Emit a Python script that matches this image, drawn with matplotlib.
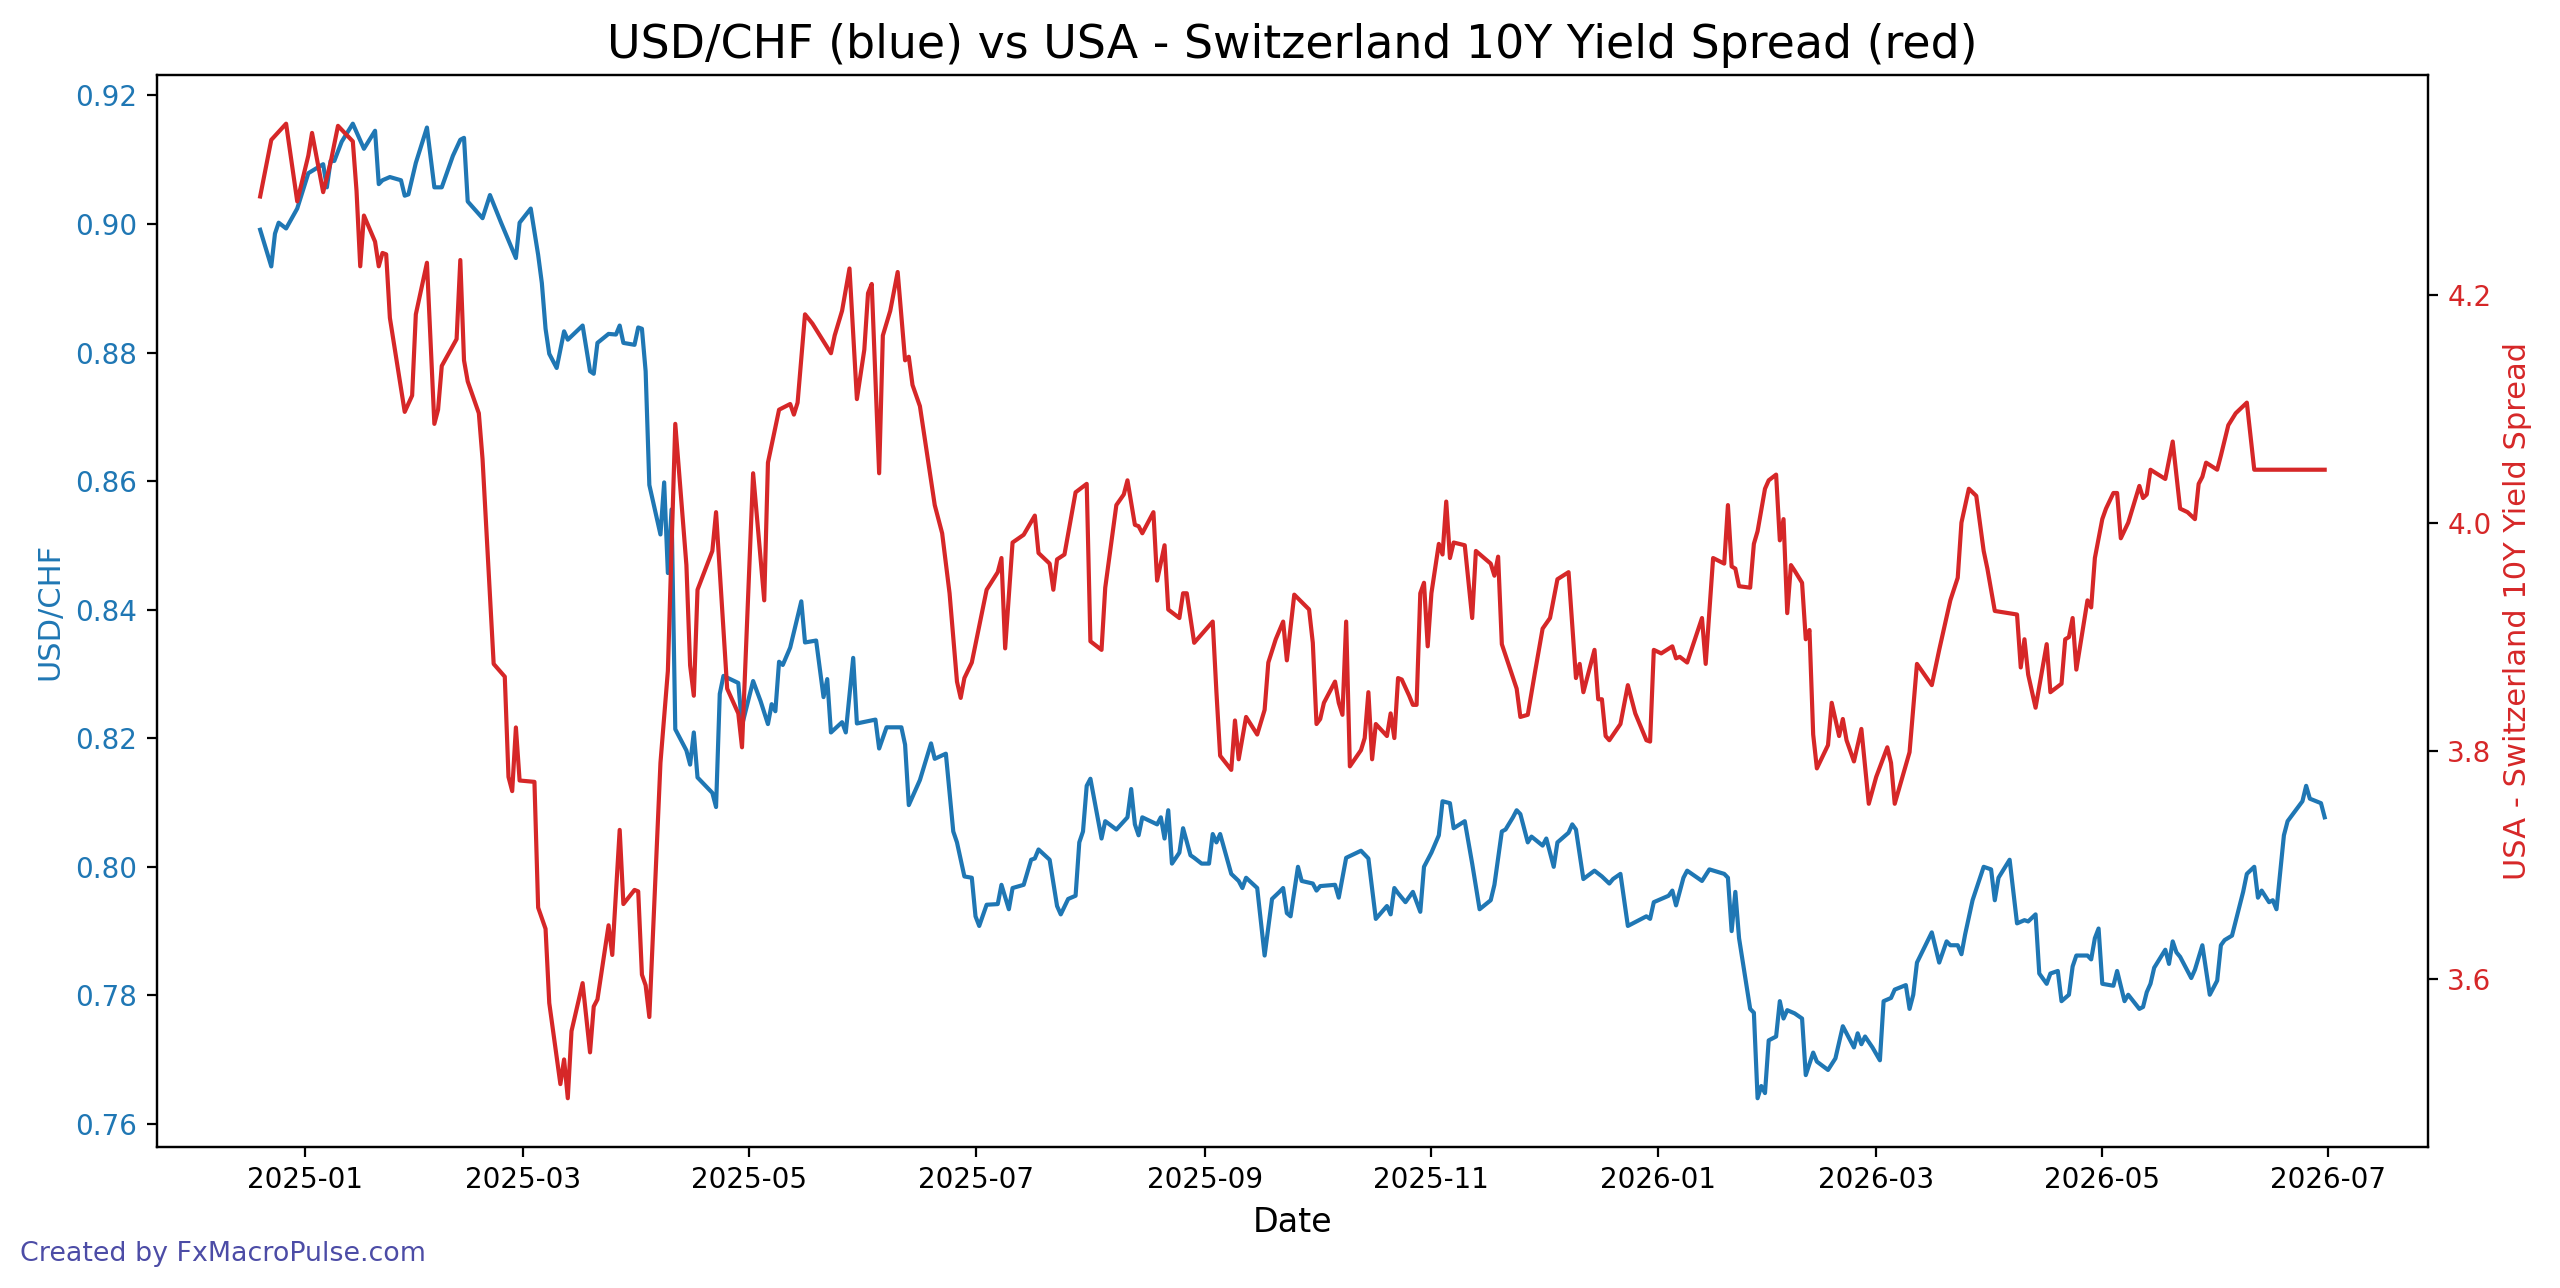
import matplotlib
matplotlib.use("Agg")
import matplotlib.pyplot as plt
import matplotlib.dates as mdates
import pandas as pd

# ---------------- data ----------------
usdchf_dates = [
    "2024-12-20", "2024-12-23", "2024-12-24", "2024-12-25", "2024-12-27", "2024-12-30",
    "2025-01-02", "2025-01-06", "2025-01-07", "2025-01-08", "2025-01-09", "2025-01-11", "2025-01-14", "2025-01-17",
    "2025-01-20", "2025-01-21", "2025-01-22", "2025-01-24", "2025-01-27", "2025-01-28", "2025-01-29", "2025-01-31",
    "2025-02-03", "2025-02-05", "2025-02-07", "2025-02-10", "2025-02-12", "2025-02-13", "2025-02-14", "2025-02-18",
    "2025-02-20", "2025-02-23", "2025-02-27", "2025-02-28",
    "2025-03-03", "2025-03-05", "2025-03-06", "2025-03-07", "2025-03-08", "2025-03-10", "2025-03-12", "2025-03-13",
    "2025-03-17", "2025-03-19", "2025-03-20", "2025-03-21", "2025-03-24", "2025-03-26", "2025-03-27", "2025-03-28", "2025-03-31",
    "2025-04-01", "2025-04-02", "2025-04-03", "2025-04-04", "2025-04-07", "2025-04-08", "2025-04-09", "2025-04-10",
    "2025-04-11", "2025-04-14", "2025-04-15", "2025-04-16", "2025-04-17", "2025-04-21", "2025-04-22", "2025-04-23",
    "2025-04-24", "2025-04-28", "2025-04-29",
    "2025-05-02", "2025-05-04", "2025-05-06", "2025-05-07", "2025-05-08", "2025-05-09", "2025-05-10", "2025-05-12",
    "2025-05-15", "2025-05-16", "2025-05-19", "2025-05-21", "2025-05-22", "2025-05-23", "2025-05-26", "2025-05-27",
    "2025-05-29", "2025-05-30",
    "2025-06-04", "2025-06-05", "2025-06-07", "2025-06-11", "2025-06-12", "2025-06-13", "2025-06-16", "2025-06-19",
    "2025-06-20", "2025-06-23", "2025-06-25", "2025-06-26", "2025-06-28", "2025-06-30",
    "2025-07-01", "2025-07-02", "2025-07-04", "2025-07-07", "2025-07-08", "2025-07-10", "2025-07-11", "2025-07-14",
    "2025-07-16", "2025-07-17", "2025-07-18", "2025-07-21", "2025-07-23", "2025-07-24", "2025-07-26", "2025-07-28",
    "2025-07-29", "2025-07-30", "2025-07-31",
    "2025-08-01", "2025-08-04", "2025-08-05", "2025-08-08", "2025-08-11", "2025-08-12", "2025-08-13", "2025-08-14",
    "2025-08-15", "2025-08-19", "2025-08-20", "2025-08-21", "2025-08-22", "2025-08-23", "2025-08-25", "2025-08-26",
    "2025-08-28", "2025-08-29", "2025-08-31",
    "2025-09-02", "2025-09-03", "2025-09-04", "2025-09-05", "2025-09-08", "2025-09-10", "2025-09-11", "2025-09-12",
    "2025-09-15", "2025-09-17", "2025-09-19", "2025-09-21", "2025-09-22", "2025-09-23", "2025-09-24", "2025-09-26",
    "2025-09-27", "2025-09-30",
    "2025-10-01", "2025-10-02", "2025-10-06", "2025-10-07", "2025-10-09", "2025-10-13", "2025-10-15", "2025-10-17",
    "2025-10-20", "2025-10-21", "2025-10-22", "2025-10-23", "2025-10-25", "2025-10-27", "2025-10-29", "2025-10-30",
    "2025-11-01", "2025-11-03", "2025-11-04", "2025-11-06", "2025-11-07", "2025-11-10", "2025-11-12", "2025-11-14",
    "2025-11-17", "2025-11-18", "2025-11-20", "2025-11-21", "2025-11-23", "2025-11-24", "2025-11-25", "2025-11-27", "2025-11-28",
    "2025-12-01", "2025-12-02", "2025-12-04", "2025-12-05", "2025-12-08", "2025-12-09", "2025-12-10", "2025-12-12",
    "2025-12-15", "2025-12-17", "2025-12-19", "2025-12-20", "2025-12-22", "2025-12-24", "2025-12-29", "2025-12-30", "2025-12-31",
    "2026-01-04", "2026-01-05", "2026-01-06", "2026-01-08", "2026-01-09", "2026-01-13", "2026-01-15", "2026-01-19",
    "2026-01-20", "2026-01-21", "2026-01-22", "2026-01-23", "2026-01-26", "2026-01-27", "2026-01-28", "2026-01-29",
    "2026-01-30", "2026-01-31",
    "2026-02-02", "2026-02-03", "2026-02-04", "2026-02-05", "2026-02-07", "2026-02-09", "2026-02-10", "2026-02-12",
    "2026-02-13", "2026-02-16", "2026-02-18", "2026-02-20", "2026-02-23", "2026-02-24", "2026-02-25", "2026-02-26", "2026-02-28",
    "2026-03-02", "2026-03-03", "2026-03-05", "2026-03-06", "2026-03-09", "2026-03-10", "2026-03-11", "2026-03-12",
    "2026-03-16", "2026-03-18", "2026-03-20", "2026-03-21", "2026-03-23", "2026-03-24", "2026-03-25", "2026-03-27", "2026-03-30",
    "2026-04-01", "2026-04-02", "2026-04-03", "2026-04-06", "2026-04-08", "2026-04-10", "2026-04-11", "2026-04-13",
    "2026-04-14", "2026-04-16", "2026-04-17", "2026-04-19", "2026-04-20", "2026-04-22", "2026-04-23", "2026-04-24",
    "2026-04-27", "2026-04-28", "2026-04-29", "2026-04-30",
    "2026-05-01", "2026-05-04", "2026-05-05", "2026-05-07", "2026-05-08", "2026-05-11", "2026-05-12", "2026-05-13",
    "2026-05-14", "2026-05-15", "2026-05-18", "2026-05-19", "2026-05-20", "2026-05-21", "2026-05-22", "2026-05-25",
    "2026-05-26", "2026-05-28", "2026-05-30",
    "2026-06-01", "2026-06-02", "2026-06-03", "2026-06-05", "2026-06-08", "2026-06-09", "2026-06-11", "2026-06-12",
    "2026-06-13", "2026-06-15", "2026-06-16", "2026-06-17", "2026-06-19", "2026-06-20", "2026-06-24", "2026-06-25",
    "2026-06-26", "2026-06-29", "2026-06-30",
]
usdchf_values = [
    0.8991, 0.8934, 0.8985, 0.9002, 0.8993, 0.9024,
    0.9079, 0.9093, 0.9057, 0.9098, 0.9098, 0.9128, 0.9156, 0.9117,
    0.9145, 0.9062, 0.9068, 0.9073, 0.9068, 0.9044, 0.9046, 0.9095,
    0.9150, 0.9057, 0.9057, 0.9106, 0.9131, 0.9134, 0.9035, 0.9009,
    0.9045, 0.9002, 0.8947, 0.9002,
    0.9024, 0.8952, 0.8908, 0.8837, 0.8798, 0.8776, 0.8833, 0.8820,
    0.8842, 0.8771, 0.8767, 0.8815, 0.8829, 0.8828, 0.8842, 0.8815, 0.8812,
    0.8839, 0.8837, 0.8771, 0.8594, 0.8517, 0.8598, 0.8457, 0.8556,
    0.8214, 0.8181, 0.8159, 0.8209, 0.8139, 0.8115, 0.8093, 0.8269,
    0.8297, 0.8286, 0.8220,
    0.8289, 0.8258, 0.8222, 0.8253, 0.8242, 0.8319, 0.8314, 0.8341,
    0.8413, 0.8349, 0.8352, 0.8264, 0.8292, 0.8209, 0.8225, 0.8209,
    0.8325, 0.8223,
    0.8229, 0.8184, 0.8217, 0.8217, 0.8190, 0.8096, 0.8135, 0.8192,
    0.8168, 0.8176, 0.8055, 0.8038, 0.7985, 0.7983,
    0.7923, 0.7908, 0.7941, 0.7942, 0.7972, 0.7934, 0.7967, 0.7972,
    0.8011, 0.8013, 0.8027, 0.8011, 0.7939, 0.7926, 0.7950, 0.7955,
    0.8038, 0.8055, 0.8126,
    0.8137, 0.8044, 0.8071, 0.8058, 0.8077, 0.8121, 0.8066, 0.8049,
    0.8077, 0.8066, 0.8077, 0.8044, 0.8088, 0.8005, 0.8022, 0.8060,
    0.8018, 0.8014, 0.8005,
    0.8005, 0.8051, 0.8038, 0.8051, 0.7989, 0.7978, 0.7967, 0.7983,
    0.7967, 0.7862, 0.7950, 0.7961, 0.7967, 0.7928, 0.7923, 0.8000,
    0.7978, 0.7974,
    0.7963, 0.7970, 0.7972, 0.7952, 0.8014, 0.8025, 0.8013, 0.7919,
    0.7939, 0.7926, 0.7967, 0.7959, 0.7945, 0.7961, 0.7930, 0.8000,
    0.8022, 0.8049, 0.8102, 0.8099, 0.8060, 0.8071, 0.8005, 0.7934,
    0.7948, 0.7972, 0.8055, 0.8058, 0.8077, 0.8088, 0.8082, 0.8038, 0.8047,
    0.8033, 0.8044, 0.8000, 0.8038, 0.8053, 0.8066, 0.8058, 0.7981,
    0.7994, 0.7985, 0.7974, 0.7981, 0.7989, 0.7908, 0.7923, 0.7919, 0.7945,
    0.7955, 0.7963, 0.7940, 0.7983, 0.7994, 0.7978, 0.7996, 0.7989,
    0.7983, 0.7900, 0.7961, 0.7889, 0.7779, 0.7773, 0.7640, 0.7659,
    0.7648, 0.7730,
    0.7736, 0.7791, 0.7764, 0.7777, 0.7772, 0.7764, 0.7676, 0.7711,
    0.7697, 0.7684, 0.7702, 0.7752, 0.7719, 0.7741, 0.7724, 0.7736, 0.7719,
    0.7699, 0.7791, 0.7796, 0.7809, 0.7816, 0.7779, 0.7801, 0.7851,
    0.7898, 0.7851, 0.7884, 0.7878, 0.7878, 0.7864, 0.7895, 0.7948, 0.8000,
    0.7996, 0.7948, 0.7983, 0.8011, 0.7912, 0.7917, 0.7915, 0.7926,
    0.7834, 0.7818, 0.7834, 0.7838, 0.7791, 0.7801, 0.7845, 0.7862,
    0.7862, 0.7856, 0.7889, 0.7904,
    0.7818, 0.7815, 0.7838, 0.7791, 0.7801, 0.7779, 0.7782, 0.7805,
    0.7818, 0.7843, 0.7871, 0.7849, 0.7884, 0.7867, 0.7860, 0.7827,
    0.7840, 0.7878, 0.7801,
    0.7823, 0.7878, 0.7886, 0.7893, 0.7961, 0.7989, 0.8000, 0.7952,
    0.7963, 0.7945, 0.7948, 0.7934, 0.8049, 0.8071, 0.8102, 0.8126,
    0.8106, 0.8099, 0.8077,
]

spread_dates = [
    "2024-12-20", "2024-12-23", "2024-12-27", "2024-12-30",
    "2025-01-02", "2025-01-03", "2025-01-06", "2025-01-08", "2025-01-10", "2025-01-14", "2025-01-15", "2025-01-16",
    "2025-01-17", "2025-01-20", "2025-01-21", "2025-01-22", "2025-01-23", "2025-01-24", "2025-01-28", "2025-01-30", "2025-01-31",
    "2025-02-03", "2025-02-05", "2025-02-06", "2025-02-07", "2025-02-11", "2025-02-12", "2025-02-13", "2025-02-14",
    "2025-02-17", "2025-02-18", "2025-02-21", "2025-02-24", "2025-02-25", "2025-02-26", "2025-02-27", "2025-02-28",
    "2025-03-04", "2025-03-05", "2025-03-07", "2025-03-08", "2025-03-11", "2025-03-12", "2025-03-13", "2025-03-14",
    "2025-03-17", "2025-03-19", "2025-03-20", "2025-03-21", "2025-03-24", "2025-03-25", "2025-03-27", "2025-03-28", "2025-03-31",
    "2025-04-01", "2025-04-02", "2025-04-03", "2025-04-04", "2025-04-07", "2025-04-09", "2025-04-11", "2025-04-14",
    "2025-04-15", "2025-04-16", "2025-04-17", "2025-04-21", "2025-04-22", "2025-04-25", "2025-04-28", "2025-04-29",
    "2025-05-02", "2025-05-05", "2025-05-06", "2025-05-09", "2025-05-12", "2025-05-13", "2025-05-14", "2025-05-16",
    "2025-05-18", "2025-05-23", "2025-05-24", "2025-05-26", "2025-05-28", "2025-05-30",
    "2025-06-01", "2025-06-02", "2025-06-03", "2025-06-05", "2025-06-06", "2025-06-08", "2025-06-10", "2025-06-12",
    "2025-06-13", "2025-06-14", "2025-06-16", "2025-06-20", "2025-06-22", "2025-06-24", "2025-06-26", "2025-06-27",
    "2025-06-28", "2025-06-30",
    "2025-07-04", "2025-07-07", "2025-07-08", "2025-07-09", "2025-07-11", "2025-07-14", "2025-07-17", "2025-07-18",
    "2025-07-21", "2025-07-22", "2025-07-23", "2025-07-25", "2025-07-28", "2025-07-31",
    "2025-08-01", "2025-08-04", "2025-08-05", "2025-08-08", "2025-08-10", "2025-08-11", "2025-08-13", "2025-08-14",
    "2025-08-15", "2025-08-18", "2025-08-19", "2025-08-21", "2025-08-22", "2025-08-25", "2025-08-26", "2025-08-27", "2025-08-29",
    "2025-09-03", "2025-09-04", "2025-09-05", "2025-09-08", "2025-09-09", "2025-09-10", "2025-09-12", "2025-09-15",
    "2025-09-17", "2025-09-18", "2025-09-20", "2025-09-22", "2025-09-23", "2025-09-25", "2025-09-29", "2025-09-30",
    "2025-10-01", "2025-10-02", "2025-10-03", "2025-10-06", "2025-10-07", "2025-10-08", "2025-10-09", "2025-10-10",
    "2025-10-13", "2025-10-14", "2025-10-15", "2025-10-16", "2025-10-17", "2025-10-20", "2025-10-21", "2025-10-22",
    "2025-10-23", "2025-10-24", "2025-10-26", "2025-10-27", "2025-10-28", "2025-10-29", "2025-10-30", "2025-10-31",
    "2025-11-01", "2025-11-03", "2025-11-04", "2025-11-05", "2025-11-06", "2025-11-07", "2025-11-10", "2025-11-12",
    "2025-11-13", "2025-11-17", "2025-11-18", "2025-11-19", "2025-11-20", "2025-11-24", "2025-11-25", "2025-11-27", "2025-11-29",
    "2025-12-01", "2025-12-03", "2025-12-05", "2025-12-08", "2025-12-10", "2025-12-11", "2025-12-12", "2025-12-15",
    "2025-12-16", "2025-12-17", "2025-12-18", "2025-12-19", "2025-12-22", "2025-12-24", "2025-12-26", "2025-12-29",
    "2025-12-30", "2025-12-31",
    "2026-01-02", "2026-01-05", "2026-01-06", "2026-01-07", "2026-01-09", "2026-01-13", "2026-01-14", "2026-01-16",
    "2026-01-19", "2026-01-20", "2026-01-21", "2026-01-22", "2026-01-23", "2026-01-26", "2026-01-27", "2026-01-28",
    "2026-01-30", "2026-01-31",
    "2026-02-02", "2026-02-03", "2026-02-04", "2026-02-05", "2026-02-06", "2026-02-07", "2026-02-09", "2026-02-10",
    "2026-02-11", "2026-02-12", "2026-02-13", "2026-02-16", "2026-02-17", "2026-02-19", "2026-02-20", "2026-02-21",
    "2026-02-23", "2026-02-25", "2026-02-27",
    "2026-03-01", "2026-03-04", "2026-03-05", "2026-03-06", "2026-03-10", "2026-03-12", "2026-03-16", "2026-03-18",
    "2026-03-21", "2026-03-23", "2026-03-24", "2026-03-26", "2026-03-28", "2026-03-30", "2026-03-31",
    "2026-04-02", "2026-04-08", "2026-04-09", "2026-04-10", "2026-04-11", "2026-04-13", "2026-04-16", "2026-04-17",
    "2026-04-20", "2026-04-21", "2026-04-22", "2026-04-23", "2026-04-24", "2026-04-27", "2026-04-28", "2026-04-29",
    "2026-05-01", "2026-05-02", "2026-05-04", "2026-05-05", "2026-05-06", "2026-05-08", "2026-05-11", "2026-05-12",
    "2026-05-13", "2026-05-14", "2026-05-18", "2026-05-20", "2026-05-22", "2026-05-24", "2026-05-26", "2026-05-27",
    "2026-05-28", "2026-05-29",
    "2026-06-01", "2026-06-02", "2026-06-04", "2026-06-06", "2026-06-09", "2026-06-11", "2026-06-30",
]
spread_values = [
    4.2860, 4.3356, 4.3498, 4.2817,
    4.3219, 4.3417, 4.2898, 4.3157, 4.3479, 4.3343, 4.2910, 4.2248,
    4.2693, 4.2464, 4.2248, 4.2365, 4.2353, 4.1796, 4.0972, 4.1115, 4.1827,
    4.2279, 4.0867, 4.0991, 4.1375, 4.1610, 4.2303, 4.1424, 4.1239,
    4.0960, 4.0558, 3.8763, 3.8651, 3.7772, 3.7648, 3.8206, 3.7741,
    3.7729, 3.6627, 3.6441, 3.5791, 3.5080, 3.5296, 3.4956, 3.5544,
    3.5965, 3.5358, 3.5760, 3.5822, 3.6472, 3.6212, 3.7308, 3.6658, 3.6782,
    3.6769, 3.6039, 3.5946, 3.5668, 3.7896, 3.8701, 4.0867, 3.9629,
    3.8750, 3.8484, 3.9413, 3.9753, 4.0093, 3.8546, 3.8329, 3.8032,
    4.0434, 3.9320, 4.0527, 4.0991, 4.1041, 4.0948, 4.1053, 4.1827,
    4.1746, 4.1486, 4.1641, 4.1858, 4.2229, 4.1084,
    4.1517, 4.2012, 4.2093, 4.0434, 4.1641, 4.1858, 4.2198, 4.1424,
    4.1455, 4.1208, 4.1022, 4.0155, 3.9908, 3.9382, 3.8608, 3.8465,
    3.8639, 3.8775,
    3.9413, 3.9567, 3.9691, 3.8899, 3.9827, 3.9895, 4.0063, 3.9735,
    3.9642, 3.9413, 3.9679, 3.9722, 4.0267, 4.0341,
    3.8961, 3.8886, 3.9431, 4.0155, 4.0248, 4.0372, 3.9982, 3.9970,
    3.9908, 4.0093, 3.9493, 3.9803, 3.9239, 3.9165, 3.9382, 3.9382, 3.8948,
    3.9134, 3.8515, 3.7958, 3.7834, 3.8267, 3.7927, 3.8298, 3.8144,
    3.8360, 3.8775, 3.8979, 3.9134, 3.8794, 3.9370, 3.9240, 3.8948,
    3.8236, 3.8280, 3.8422, 3.8608, 3.8422, 3.8317, 3.9134, 3.7865,
    3.8007, 3.8113, 3.8515, 3.7927, 3.8236, 3.8131, 3.8329, 3.8113,
    3.8639, 3.8626, 3.8484, 3.8404, 3.8404, 3.9382, 3.9474, 3.8917,
    3.9382, 3.9815, 3.9722, 4.0186, 3.9691, 3.9827, 3.9803, 3.9165,
    3.9753, 3.9642, 3.9536, 3.9703, 3.8936, 3.8546, 3.8298, 3.8317, 3.8701,
    3.9072, 3.9165, 3.9505, 3.9567, 3.8639, 3.8763, 3.8515, 3.8886,
    3.8453, 3.8453, 3.8131, 3.8094, 3.8236, 3.8577, 3.8329, 3.8094,
    3.8082, 3.8886,
    3.8855, 3.8917, 3.8812, 3.8825, 3.8775, 3.9165, 3.8763, 3.9691,
    3.9642, 4.0155, 3.9617, 3.9598, 3.9444, 3.9431, 3.9815, 3.9926,
    4.0298, 4.0372,
    4.0422, 3.9846, 4.0032, 3.9208, 3.9629, 3.9580, 3.9474, 3.8979,
    3.9060, 3.8144, 3.7847, 3.8051, 3.8422, 3.8131, 3.8280, 3.8094,
    3.7908, 3.8193, 3.7537,
    3.7772, 3.8032, 3.7896, 3.7537, 3.7989, 3.8763, 3.8577, 3.8886,
    3.9320, 3.9518, 4.0001, 4.0298, 4.0236, 3.9753, 3.9598,
    3.9227, 3.9196, 3.8732, 3.8979, 3.8670, 3.8379, 3.8936, 3.8515,
    3.8589, 3.8979, 3.8998, 3.9165, 3.8713, 3.9320, 3.9258, 3.9691,
    4.0032, 4.0124, 4.0261, 4.0261, 3.9864, 4.0001, 4.0323, 4.0217,
    4.0248, 4.0465, 4.0384, 4.0712, 4.0124, 4.0093, 4.0032, 4.0341,
    4.0403, 4.0527,
    4.0465, 4.0589, 4.0855, 4.0960, 4.1053, 4.0465, 4.0465,
]

title_text = "USD/CHF (blue) vs USA - Switzerland 10Y Yield Spread (red)"
x_label = "Date"
left_label = "USD/CHF"
right_label = "USA - Switzerland 10Y Yield Spread"
credit_text = "Created by FxMacroPulse.com"

assert len(usdchf_dates) == len(usdchf_values)
assert len(spread_dates) == len(spread_values)

# ---------------- plot ----------------
blue = "tab:blue"
red = "tab:red"

fig = plt.figure(figsize=(12.8, 6.44), dpi=200)
ax1 = fig.add_axes([0.0613, 0.1095, 0.9484 - 0.0613, 0.9418 - 0.1095])

ax1.plot(pd.to_datetime(usdchf_dates), usdchf_values, color=blue, linewidth=1.5)
ax1.set_xlabel(x_label, fontsize=12)
ax1.set_ylabel(left_label, color=blue, fontsize=11)
ax1.tick_params(axis="y", labelcolor=blue, labelsize=10)
ax1.tick_params(axis="x", labelsize=10)

ax2 = ax1.twinx()
ax2.plot(pd.to_datetime(spread_dates), spread_values, color=red, linewidth=1.5)
ax2.set_ylabel(right_label, color=red, fontsize=11)
ax2.tick_params(axis="y", labelcolor=red, labelsize=10)

ax1.xaxis.set_major_locator(mdates.MonthLocator(bymonth=[1, 3, 5, 7, 9, 11]))
ax1.xaxis.set_major_formatter(mdates.DateFormatter("%Y-%m"))

ax1.set_title(title_text, fontsize=16.5)

fig.text(0.008, 0.021, credit_text, color="navy", alpha=0.7, fontsize=9.7)

fig.savefig("out.png", dpi=200)
